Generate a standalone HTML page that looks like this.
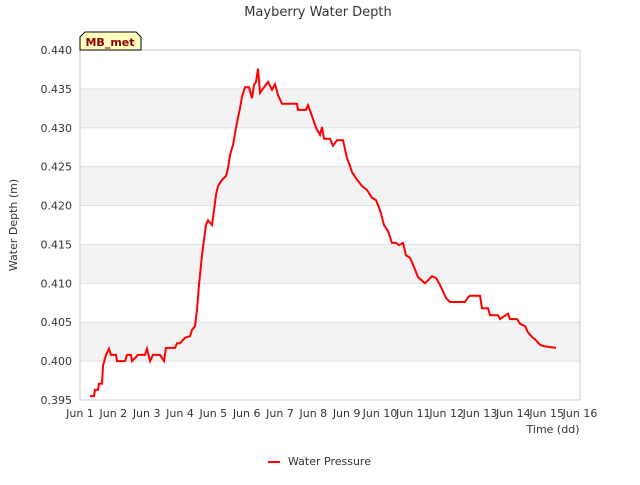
<!DOCTYPE html>
<html><head><meta charset="utf-8"><style>
body{margin:0;background:#fff;font-family:"Liberation Sans","DejaVu Sans",sans-serif}
svg text{font-family:"DejaVu Sans","Liberation Sans",sans-serif;fill:#333}
</style></head><body>
<svg id="chart" width="640" height="480">
<text x="318" y="16" text-anchor="middle" font-size="13">Mayberry Water Depth</text>
<g id="bands"></g><g id="grid"></g>
<rect x="80" y="50" width="500" height="350" fill="none" stroke="#ccc"/>
<g id="yt"></g><g id="xt"></g>
<text transform="translate(17,225) rotate(-90)" text-anchor="middle" font-size="11">Water Depth (m)</text>
<text x="553" y="433" text-anchor="middle" font-size="11">Time (dd)</text>
<polyline id="series" fill="none" stroke="#ff0000" stroke-width="2"/>
<g>
<path d="M80,50 L80,37 L85,32 L136,32 L141,37 L141,50 Z" fill="#ffffc0" stroke="#000"/>
<text x="110" y="46" text-anchor="middle" font-size="11" font-weight="bold" style="fill:#8b0000">MB_met</text></g>
<g>
<line x1="268" y1="462" x2="280" y2="462" stroke="#ff0000" stroke-width="2"/>
<text x="288" y="465" font-size="11">Water Pressure</text></g>
</svg>
<script>
const yTicks=[0.395,0.400,0.405,0.410,0.415,0.420,0.425,0.430,0.435,0.440];
const xTickLabels=["Jun 1","Jun 2","Jun 3","Jun 4","Jun 5","Jun 6","Jun 7","Jun 8","Jun 9","Jun 10","Jun 11","Jun 12","Jun 13","Jun 14","Jun 15","Jun 16"];
const days=[0.30,0.42,0.45,0.54,0.57,0.66,0.69,0.78,0.87,0.93,1.08,1.11,1.35,1.41,1.53,1.56,1.74,1.95,2.01,2.10,2.19,2.40,2.52,2.58,2.85,2.91,3.00,3.15,3.30,3.36,3.45,3.51,3.57,3.66,3.72,3.78,3.84,3.96,4.02,4.08,4.14,4.26,4.38,4.44,4.50,4.59,4.68,4.74,4.80,4.86,4.95,5.07,5.16,5.22,5.28,5.34,5.40,5.52,5.64,5.76,5.85,5.94,6.06,6.51,6.54,6.78,6.84,6.96,7.08,7.20,7.26,7.32,7.50,7.59,7.71,7.89,8.01,8.10,8.16,8.28,8.46,8.61,8.76,8.88,9.00,9.12,9.24,9.36,9.48,9.57,9.69,9.78,9.90,10.02,10.14,10.35,10.56,10.68,10.80,10.98,11.10,11.55,11.64,11.70,12.00,12.06,12.24,12.30,12.54,12.60,12.84,12.90,13.11,13.20,13.35,13.44,13.56,13.65,13.80,13.92,14.28];
const depth=[0.3955,0.3955,0.3963,0.3963,0.3971,0.3971,0.3994,0.4008,0.4016,0.4008,0.4008,0.4000,0.4000,0.4008,0.4008,0.4000,0.4008,0.4008,0.4016,0.4000,0.4008,0.4008,0.4000,0.4017,0.4017,0.4023,0.4023,0.4030,0.4032,0.4040,0.4045,0.4066,0.4098,0.4136,0.4156,0.4175,0.4181,0.4175,0.4194,0.4214,0.4225,0.4233,0.4238,0.4248,0.4265,0.4278,0.4300,0.4313,0.4325,0.4340,0.4352,0.4352,0.4338,0.4355,0.4359,0.4376,0.4345,0.4352,0.4359,0.4349,0.4356,0.4342,0.4331,0.4331,0.4323,0.4323,0.4329,0.4315,0.4300,0.4291,0.4301,0.4286,0.4286,0.4277,0.4284,0.4284,0.4261,0.4251,0.4243,0.4235,0.4225,0.4220,0.4210,0.4207,0.4194,0.4175,0.4167,0.4152,0.4152,0.4149,0.4152,0.4136,0.4133,0.4121,0.4108,0.4100,0.4109,0.4107,0.4098,0.4081,0.4076,0.4076,0.4082,0.4084,0.4084,0.4068,0.4068,0.4059,0.4059,0.4054,0.4061,0.4054,0.4054,0.4048,0.4045,0.4037,0.4031,0.4028,0.4021,0.4019,0.4017];
const NS="http://www.w3.org/2000/svg";
const X=d=>80+d*500/15, Y=v=>400-(v-0.395)*350/0.045;
function mk(t,a,p){const e=document.createElementNS(NS,t);for(const k in a)e.setAttribute(k,a[k]);p.appendChild(e);return e;}
const bands=document.getElementById('bands'),grid=document.getElementById('grid'),yt=document.getElementById('yt'),xt=document.getElementById('xt');
yTicks.forEach((v,i)=>{
 if(i%2==1&&i<yTicks.length-1){const b=mk('rect',{x:80,y:Y(v+0.005),width:500,height:Y(v)-Y(v+0.005),fill:'#f3f3f3'},bands);
 
 }
 const l=mk('line',{x1:80,x2:580,y1:Y(v),y2:Y(v),stroke:'#e0e0e0'},grid);
 
 
 const t=mk('text',{x:72,y:Y(v)+4,'text-anchor':'end','font-size':11},yt);t.textContent=v.toFixed(3);
 
 
});
xTickLabels.forEach((s,i)=>{
 const t=mk('text',{x:X(i),y:417,'text-anchor':'middle','font-size':11},xt);t.textContent=s;
 
 
});
document.getElementById('series').setAttribute('points',days.map((d,i)=>X(d).toFixed(1)+','+Y(depth[i]).toFixed(1)).join(' '));
</script>
</body></html>
